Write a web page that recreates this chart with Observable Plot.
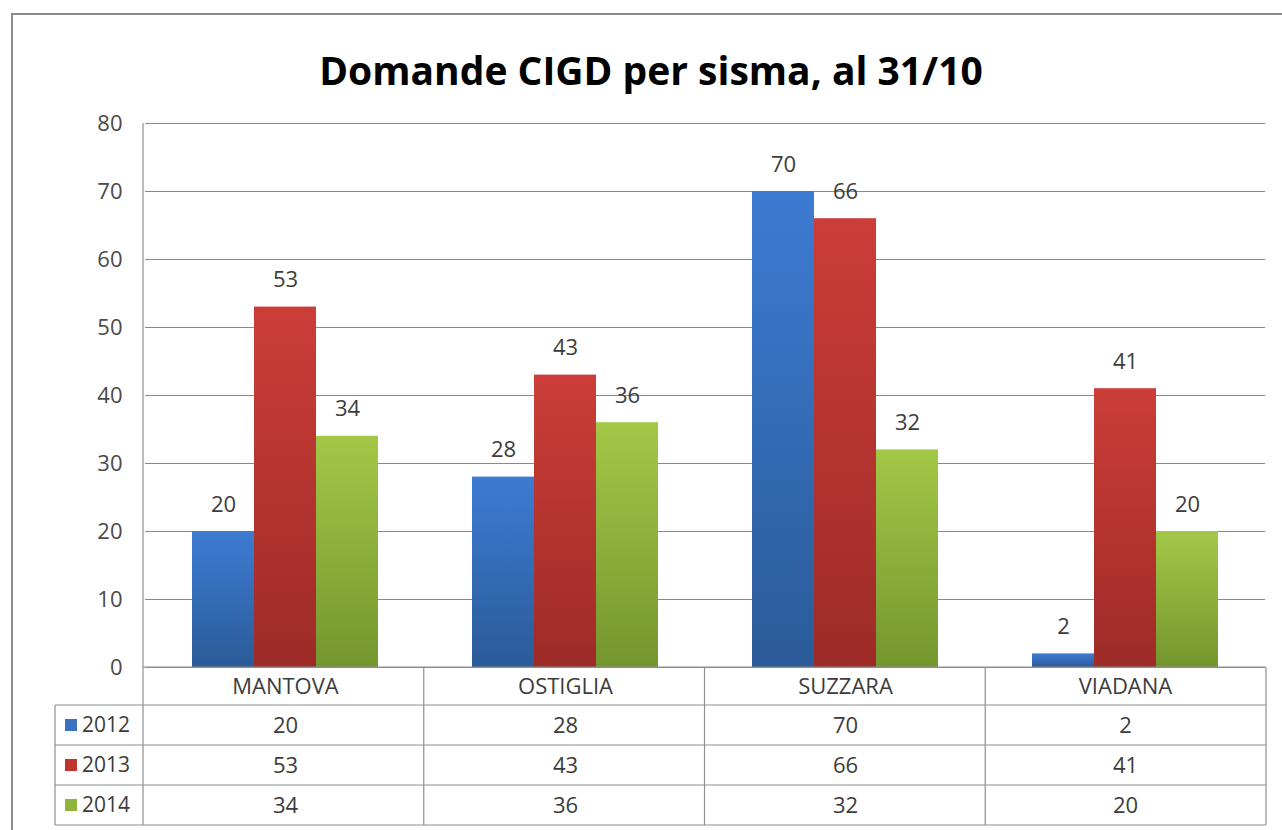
<!DOCTYPE html>
<html>
<head>
<meta charset="utf-8">
<script src="https://cdn.jsdelivr.net/npm/d3@7"></script>
<script src="https://cdn.jsdelivr.net/npm/@observablehq/plot@0.6"></script>
<style>
  html, body { margin: 0; padding: 0; background: #fff; }
  #wrap { position: relative; width: 1282px; height: 830px; overflow: hidden; font-family: "Open Sans", sans-serif; }
  #border { position: absolute; left: 11px; top: 13px; width: 1300px; height: 900px; border: 2px solid #8c8c8c; box-sizing: border-box; }
  #title { position: absolute; top: 43px; left: 0; width: 1302px; text-align: center; font: bold 39px "Open Sans", sans-serif; color: #000; line-height: 54px; }
  #chart { position: absolute; top: 100px; left: 0; }
</style>
</head>
<body>
<svg width="0" height="0" style="position:absolute">
  <defs>
    <linearGradient id="g2012" x1="0" y1="0" x2="0" y2="1">
      <stop offset="0" stop-color="#3d7bd2"/>
      <stop offset="1" stop-color="#2b5b98"/>
    </linearGradient>
    <linearGradient id="g2013" x1="0" y1="0" x2="0" y2="1">
      <stop offset="0" stop-color="#cc3d38"/>
      <stop offset="1" stop-color="#9d2b27"/>
    </linearGradient>
    <linearGradient id="g2014" x1="0" y1="0" x2="0" y2="1">
      <stop offset="0" stop-color="#a3c847"/>
      <stop offset="1" stop-color="#74962e"/>
    </linearGradient>
  </defs>
</svg>
<div id="wrap">
  <div id="border"></div>
  <div id="title">Domande CIGD per sisma, al 31/10</div>
  <div id="chart"></div>
</div>
<script>
const categories = ["MANTOVA", "OSTIGLIA", "SUZZARA", "VIADANA"];
const years = ["2012", "2013", "2014"];
const v2012 = [20, 28, 70, 2];
const v2013 = [53, 43, 66, 41];
const v2014 = [34, 36, 32, 20];
const yTicks = [0, 10, 20, 30, 40, 50, 60, 70, 80];
const legendColors = ["#3a72c0", "#be3530", "#8fb33d"];

const series = [v2012, v2013, v2014];
const data = [];
categories.forEach((c, i) => years.forEach((y, j) => data.push({cat: c, year: y, value: series[j][i]})));

const headerOffset = 19;
const rowOffsets = [58, 98, 138];
const lineOffsets = [38, 78, 118, 158];
const textColor = "#3c3c3c";
const fs = 22;

const tableText = years.map((y, j) => Plot.text(categories, {
  fx: d => d,
  text: (d, i) => String(series[j][i]),
  frameAnchor: "bottom",
  lineAnchor: "middle",
  dy: rowOffsets[j],
  fontSize: fs,
  fill: textColor
}));

const plot = Plot.plot({
  width: 1282,
  height: 730,
  marginTop: 23,
  marginBottom: 163,
  marginLeft: 143,
  marginRight: 16,
  style: {fontFamily: "'Open Sans', sans-serif", fontSize: fs + "px", color: "#4a4a4a"},
  fx: {domain: categories, padding: 0, axis: null},
  x: {domain: years, paddingInner: 0, paddingOuter: 0.75, axis: null},
  y: {domain: [0, 80], ticks: yTicks, tickSize: 0, tickPadding: 23, label: null, grid: false},
  color: {domain: years, range: years.map(y => `url(#g${y})`)},
  marks: [
    Plot.gridY(yTicks, {stroke: "#8a8a8a", strokeOpacity: 1}),
    Plot.barY(data, {fx: "cat", x: "year", y: "value", fill: "year"}),
    Plot.text(data, {fx: "cat", x: "year", y: "value", text: d => String(d.value), dy: -27, fontSize: fs, fill: textColor}),
    Plot.text(categories, {fx: d => d, text: d => d, frameAnchor: "bottom", lineAnchor: "middle", dy: headerOffset, fontSize: fs, fill: textColor}),
    ...tableText
  ]
});

// Data table grid and legend keys, positioned from the plot's own scales
const fxs = plot.scale("fx");
const ys = plot.scale("y");
const fxScale = d3.scaleBand(fxs.domain, fxs.range).paddingInner(0).paddingOuter(0);
const yScale = d3.scaleLinear(ys.domain, ys.range);
const y0 = yScale(0);
const yTop = yScale(80);
const left = fxScale.range()[0];
const right = fxScale.range()[1];
const tableLeft = 55;
const lineY = lineOffsets.map(d => y0 + d);
const svg = d3.select(plot);
const g = svg.append("g").attr("stroke", "#8f8f8f").attr("stroke-width", 1.2);
g.append("line").attr("x1", left).attr("x2", right).attr("y1", y0).attr("y2", y0);
lineY.forEach(yy => g.append("line").attr("x1", tableLeft).attr("x2", right).attr("y1", yy).attr("y2", yy));
g.append("line").attr("x1", left).attr("x2", left).attr("y1", yTop).attr("y2", lineY[3]);
categories.forEach(c => {
  const xr = fxScale(c) + fxScale.bandwidth();
  g.append("line").attr("x1", xr).attr("x2", xr).attr("y1", y0).attr("y2", lineY[3]);
});
g.append("line").attr("x1", tableLeft).attr("x2", tableLeft).attr("y1", lineY[0]).attr("y2", lineY[3]);
years.forEach((y, j) => {
  const cy = y0 + rowOffsets[j];
  svg.append("rect").attr("x", 65).attr("y", cy - 6).attr("width", 12).attr("height", 12).attr("fill", legendColors[j]);
  svg.append("text").attr("x", 82).attr("y", cy).attr("dy", "0.35em").attr("text-anchor", "start")
    .attr("font-size", 21).attr("fill", textColor).attr("font-family", "'Open Sans', sans-serif").text(y);
});

document.getElementById("chart").appendChild(plot);
</script>
</body>
</html>
